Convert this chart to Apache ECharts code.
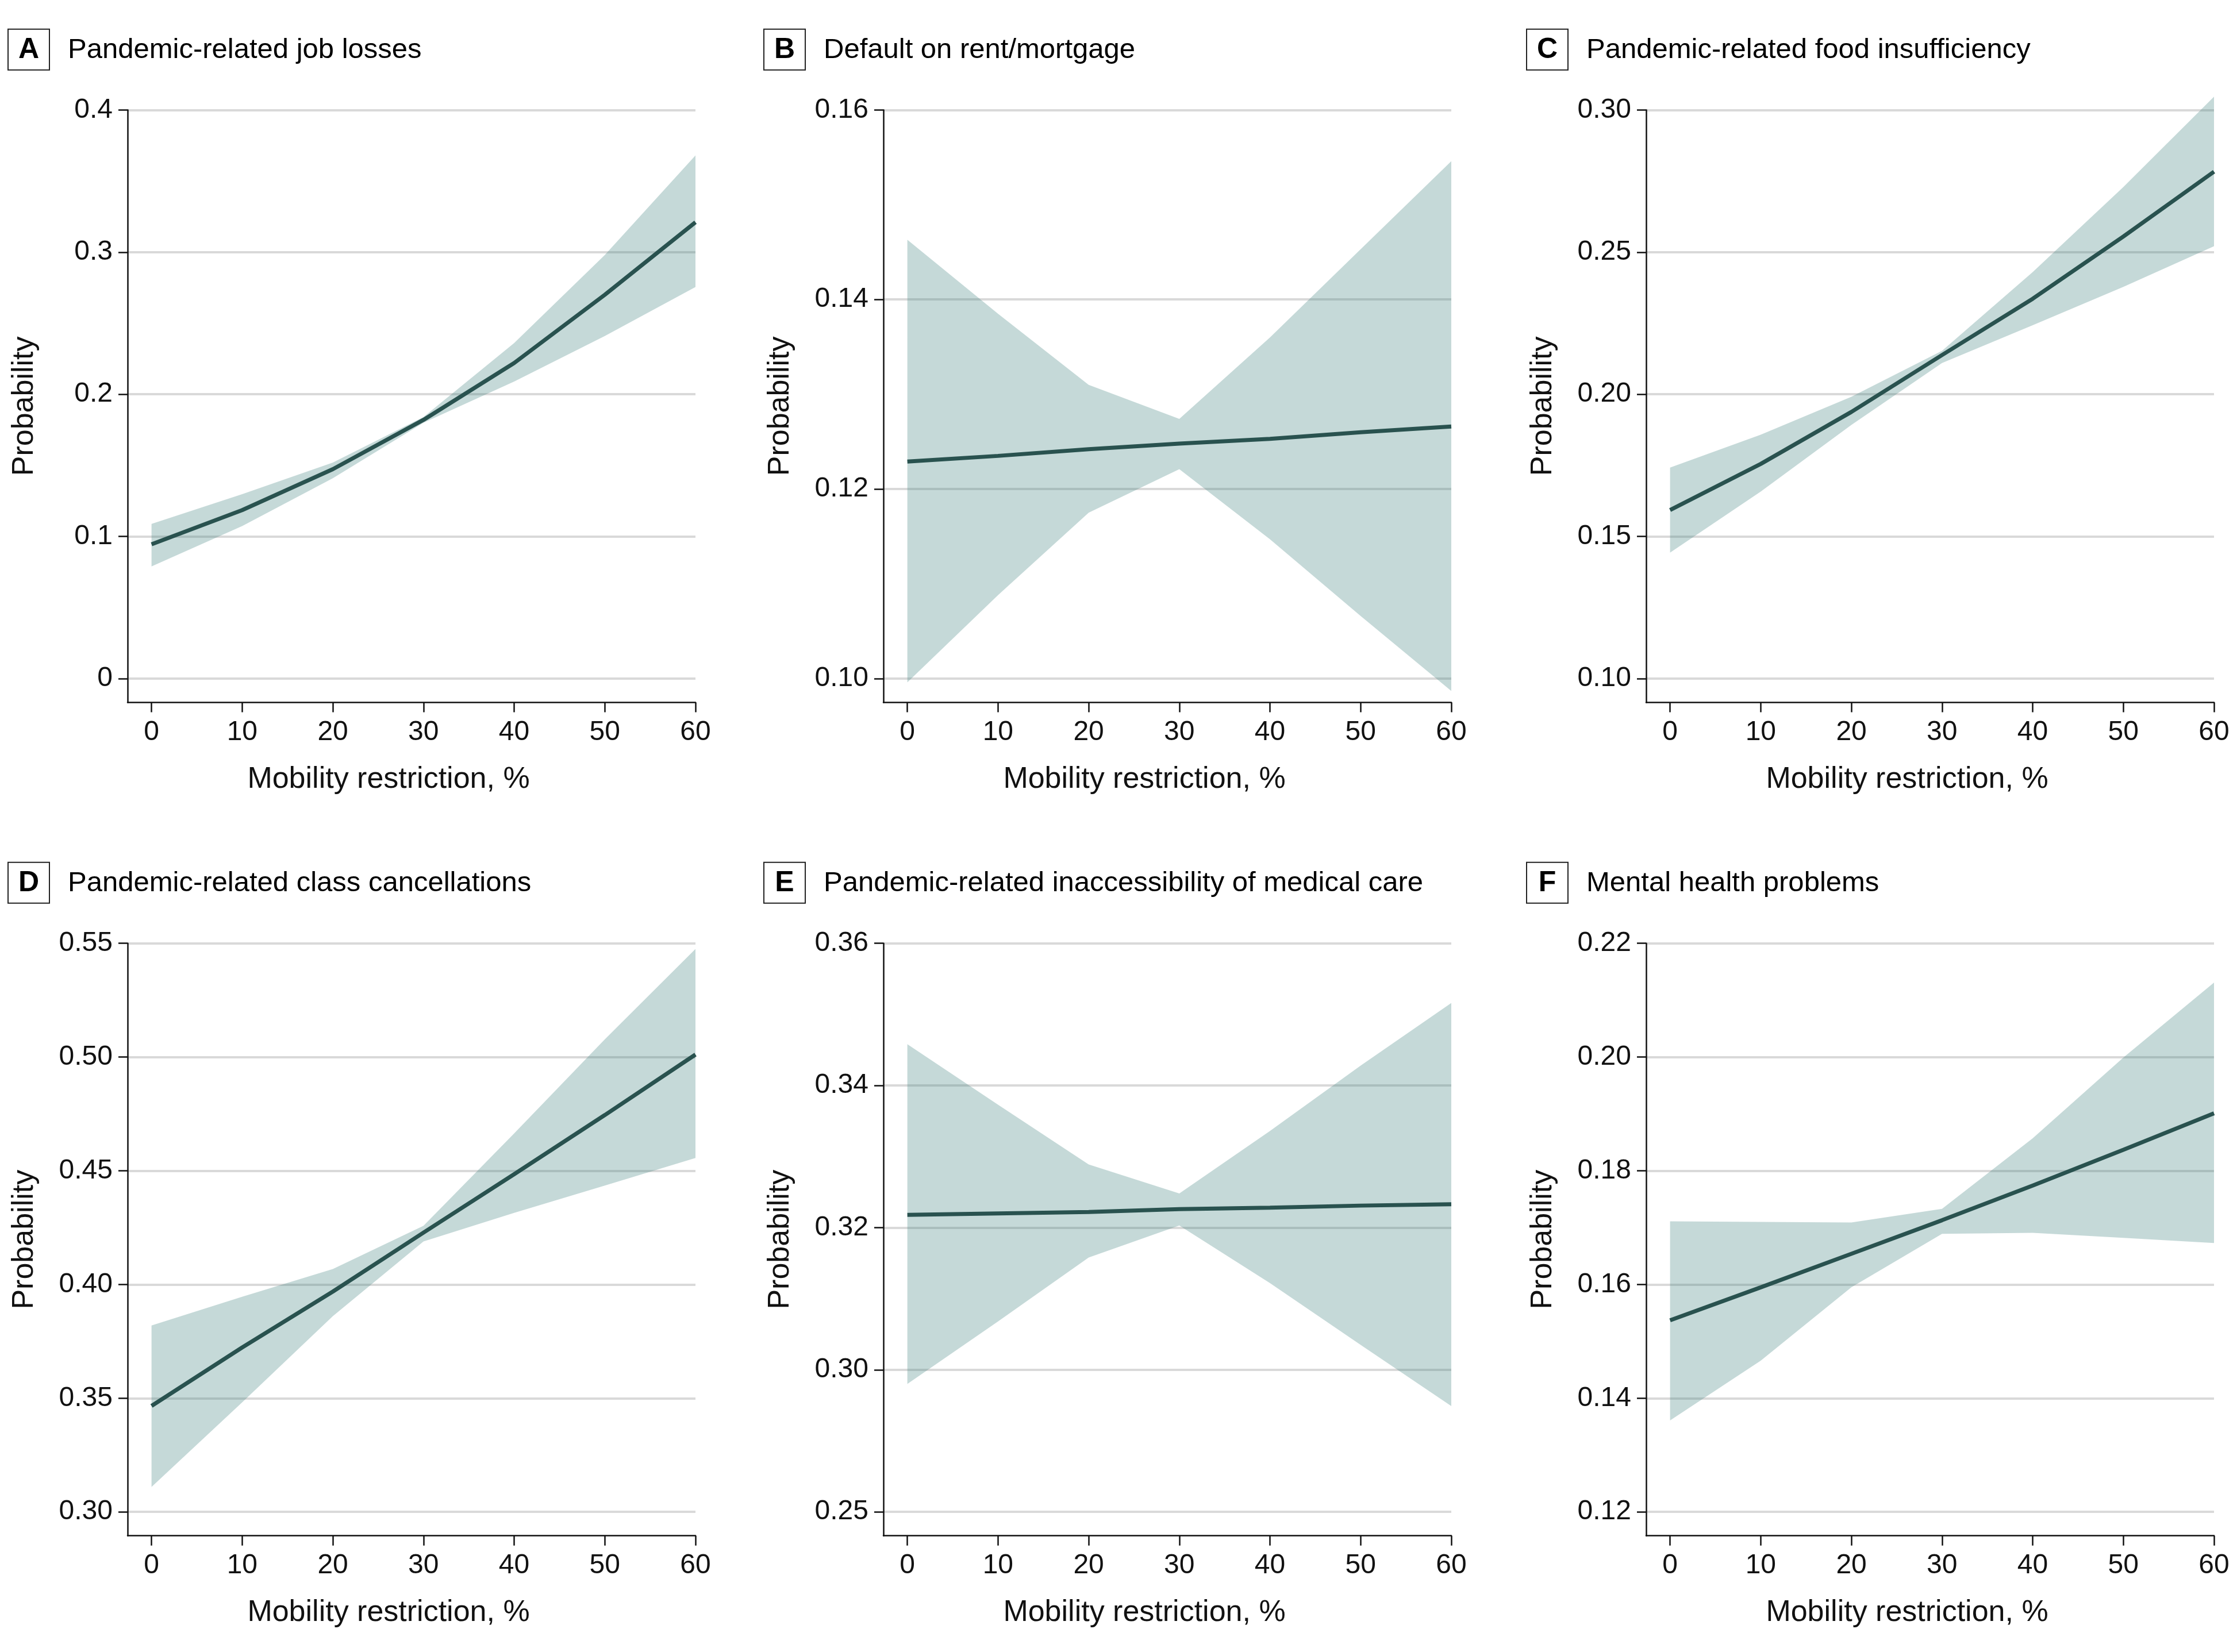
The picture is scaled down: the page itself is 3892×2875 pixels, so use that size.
<!DOCTYPE html>
<html>
<head>
<meta charset="utf-8">
<script src="https://cdn.jsdelivr.net/npm/echarts@6/dist/echarts.min.js"></script>
<style>
html,body{margin:0;padding:0;background:#fff;}
#chart{width:3892px;height:2875px;}
</style>
</head>
<body>
<div id="chart"></div>
<script>
// ---------------- DATA ----------------
const xValues = [0, 10, 20, 30, 40, 50, 60];
const xTickLabels = ['0', '10', '20', '30', '40', '50', '60'];
const xAxisTitle = 'Mobility restriction, %';
const yAxisTitle = 'Probability';

const panelLetters = ['A', 'B', 'C', 'D', 'E', 'F'];
const panelTitles = [
  'Pandemic-related job losses',
  'Default on rent/mortgage',
  'Pandemic-related food insufficiency',
  'Pandemic-related class cancellations',
  'Pandemic-related inaccessibility of medical care',
  'Mental health problems'
];

// y ticks (positions) and their printed labels
const yTicksA = [0, 0.1, 0.2, 0.3, 0.4];
const yLabelsA = ['0', '0.1', '0.2', '0.3', '0.4'];
const yTicksB = [0.10, 0.12, 0.14, 0.16];
const yLabelsB = ['0.10', '0.12', '0.14', '0.16'];
const yTicksC = [0.10, 0.15, 0.20, 0.25, 0.30];
const yLabelsC = ['0.10', '0.15', '0.20', '0.25', '0.30'];
const yTicksD = [0.30, 0.35, 0.40, 0.45, 0.50, 0.55];
const yLabelsD = ['0.30', '0.35', '0.40', '0.45', '0.50', '0.55'];
const yTicksE = [0.28, 0.30, 0.32, 0.34, 0.36];
const yLabelsE = ['0.25', '0.30', '0.32', '0.34', '0.36'];
const yTicksF = [0.12, 0.14, 0.16, 0.18, 0.20, 0.22];
const yLabelsF = ['0.12', '0.14', '0.16', '0.18', '0.20', '0.22'];

// estimates and 95% CI
const estA = [0.0945, 0.1185, 0.1473, 0.1820, 0.2220, 0.2700, 0.3210];
const hiA  = [0.1088, 0.1297, 0.1520, 0.1840, 0.2360, 0.2980, 0.3680];
const loA  = [0.0789, 0.1073, 0.1410, 0.1800, 0.2090, 0.2410, 0.2755];

const estB = [0.1229, 0.1235, 0.1242, 0.1248, 0.1253, 0.1260, 0.1266];
const hiB  = [0.1463, 0.1385, 0.1310, 0.1274, 0.1360, 0.1453, 0.1546];
const loB  = [0.0996, 0.1088, 0.1175, 0.1221, 0.1147, 0.1066, 0.0987];

const estC = [0.1593, 0.1755, 0.1938, 0.2138, 0.2336, 0.2555, 0.2783];
const hiC  = [0.1742, 0.1858, 0.1991, 0.2153, 0.2430, 0.2729, 0.3047];
const loC  = [0.1443, 0.1658, 0.1892, 0.2110, 0.2243, 0.2378, 0.2521];

const estD = [0.3466, 0.3723, 0.3969, 0.4228, 0.4485, 0.4745, 0.5011];
const hiD  = [0.3820, 0.3946, 0.4068, 0.4258, 0.4664, 0.5078, 0.5475];
const loD  = [0.3110, 0.3482, 0.3861, 0.4189, 0.4315, 0.4435, 0.4556];

const estE = [0.3218, 0.3220, 0.3222, 0.3226, 0.3228, 0.3231, 0.3233];
const hiE  = [0.3458, 0.3373, 0.3289, 0.3248, 0.3336, 0.3428, 0.3516];
const loE  = [0.2980, 0.3068, 0.3158, 0.3203, 0.3122, 0.3035, 0.2949];

const estF = [0.1537, 0.1595, 0.1654, 0.1713, 0.1774, 0.1837, 0.1901];
const hiF  = [0.1711, 0.1710, 0.1709, 0.1733, 0.1857, 0.1999, 0.2131];
const loF  = [0.1361, 0.1466, 0.1595, 0.1689, 0.1691, 0.1682, 0.1673];

// ---------------- LAYOUT / STYLE ----------------
const FONT = '"Liberation Sans", Arial, sans-serif';
const TEXT = '#111';
const LINE_COLOR = '#29524f';
const BAND_COLOR = 'rgba(62,128,125,0.30)';
const GRID_COLOR = '#d9d9d9';
const AXIS_COLOR = '#111';

const colLeft = [222, 1537, 2864];
const rowTop = [191.4, 1641.7];
const rowOffset = [0, 1450];
const gridW = 988;
const gridH = 1031;
const X_MIN = -2.64;
const BOTTOM_PAD = 0.0419; // fraction of tick span below the lowest tick

const panels = [
  {est: estA, hi: hiA, lo: loA, ticks: yTicksA, labels: yLabelsA},
  {est: estB, hi: hiB, lo: loB, ticks: yTicksB, labels: yLabelsB},
  {est: estC, hi: hiC, lo: loC, ticks: yTicksC, labels: yLabelsC},
  {est: estD, hi: hiD, lo: loD, ticks: yTicksD, labels: yLabelsD},
  {est: estE, hi: hiE, lo: loE, ticks: yTicksE, labels: yLabelsE},
  {est: estF, hi: hiF, lo: loF, ticks: yTicksF, labels: yLabelsF}
];

function lookup(vals, labs, v) {
  for (let k = 0; k < vals.length; k++) {
    if (Math.abs(vals[k] - v) < 1e-9) return labs[k];
  }
  return '';
}

const grids = [], xAxes = [], yAxes = [], series = [], graphics = [];

panels.forEach((p, i) => {
  const col = i % 3, row = Math.floor(i / 3);
  const left = colLeft[col], top = rowTop[row];
  grids.push({left: left, top: top, width: gridW, height: gridH, containLabel: false});

  const t0 = p.ticks[0], t1 = p.ticks[p.ticks.length - 1];
  const yMin = t0 - (t1 - t0) * BOTTOM_PAD;

  xAxes.push({
    type: 'value', gridIndex: i, min: X_MIN, max: 60,
    axisLine: {show: true, onZero: false, lineStyle: {color: AXIS_COLOR, width: 2.5}},
    axisTick: {show: true, customValues: xValues, length: 17, lineStyle: {color: AXIS_COLOR, width: 2.5}},
    axisLabel: {show: true, customValues: xValues, margin: 28, fontSize: 48, fontFamily: FONT, color: TEXT,
      formatter: v => lookup(xValues, xTickLabels, v)},
    splitLine: {show: false},
    name: xAxisTitle, nameLocation: 'middle', nameGap: 108,
    nameTextStyle: {fontSize: 52, fontFamily: FONT, color: TEXT, padding: [0, 80, 0, 0]}
  });

  yAxes.push({
    type: 'value', gridIndex: i, min: yMin, max: t1,
    axisLine: {show: true, onZero: false, lineStyle: {color: AXIS_COLOR, width: 2.5}},
    axisTick: {show: true, customValues: p.ticks, length: 16, lineStyle: {color: AXIS_COLOR, width: 2.5}},
    axisLabel: {show: true, customValues: p.ticks, margin: 26, fontSize: 48, fontFamily: FONT, color: TEXT,
      formatter: v => lookup(p.ticks, p.labels, v)},
    splitLine: {show: true, lineStyle: {color: GRID_COLOR, width: 4}},
    name: yAxisTitle, nameLocation: 'middle', nameGap: 153,
    nameTextStyle: {fontSize: 52, fontFamily: FONT, color: TEXT}
  });

  const estPts = xValues.map((x, k) => [x, p.est[k]]);

  // confidence band polygon through the axis scales
  series.push({
    type: 'custom', xAxisIndex: i, yAxisIndex: i, silent: true, clip: false, z: 2,
    data: [[xValues[0], p.lo[0]]],
    renderItem: function (params, api) {
      const pts = [];
      for (let k = 0; k < xValues.length; k++) pts.push(api.coord([xValues[k], p.hi[k]]));
      for (let k = xValues.length - 1; k >= 0; k--) pts.push(api.coord([xValues[k], p.lo[k]]));
      return {type: 'polygon', shape: {points: pts}, style: {fill: BAND_COLOR}};
    }
  });
  series.push({
    type: 'line', xAxisIndex: i, yAxisIndex: i, data: estPts,
    symbol: 'none', silent: true, lineStyle: {width: 7, color: LINE_COLOR}, clip: false, z: 5
  });

  // panel label box and title
  const off = rowOffset[row];
  graphics.push({
    type: 'rect', shape: {x: left - 208, y: off + 50.7, width: 72, height: 71},
    style: {fill: '#fff', stroke: '#222', lineWidth: 2}
  });
  graphics.push({
    type: 'text', x: left - 172, y: off + 87,
    style: {text: panelLetters[i], fontSize: 50, fontWeight: 'bold', fontFamily: FONT, fill: '#000',
      align: 'center', verticalAlign: 'middle'}
  });
  graphics.push({
    type: 'text', x: left - 104, y: off + 87,
    style: {text: panelTitles[i], fontSize: 49, fontFamily: FONT, fill: '#000',
      align: 'left', verticalAlign: 'middle'}
  });
});

const chart = echarts.init(document.getElementById('chart'), null, {renderer: 'canvas'});
chart.setOption({
  backgroundColor: '#fff',
  animation: false,
  grid: grids,
  xAxis: xAxes,
  yAxis: yAxes,
  series: series,
  graphic: graphics
});
</script>
</body>
</html>
